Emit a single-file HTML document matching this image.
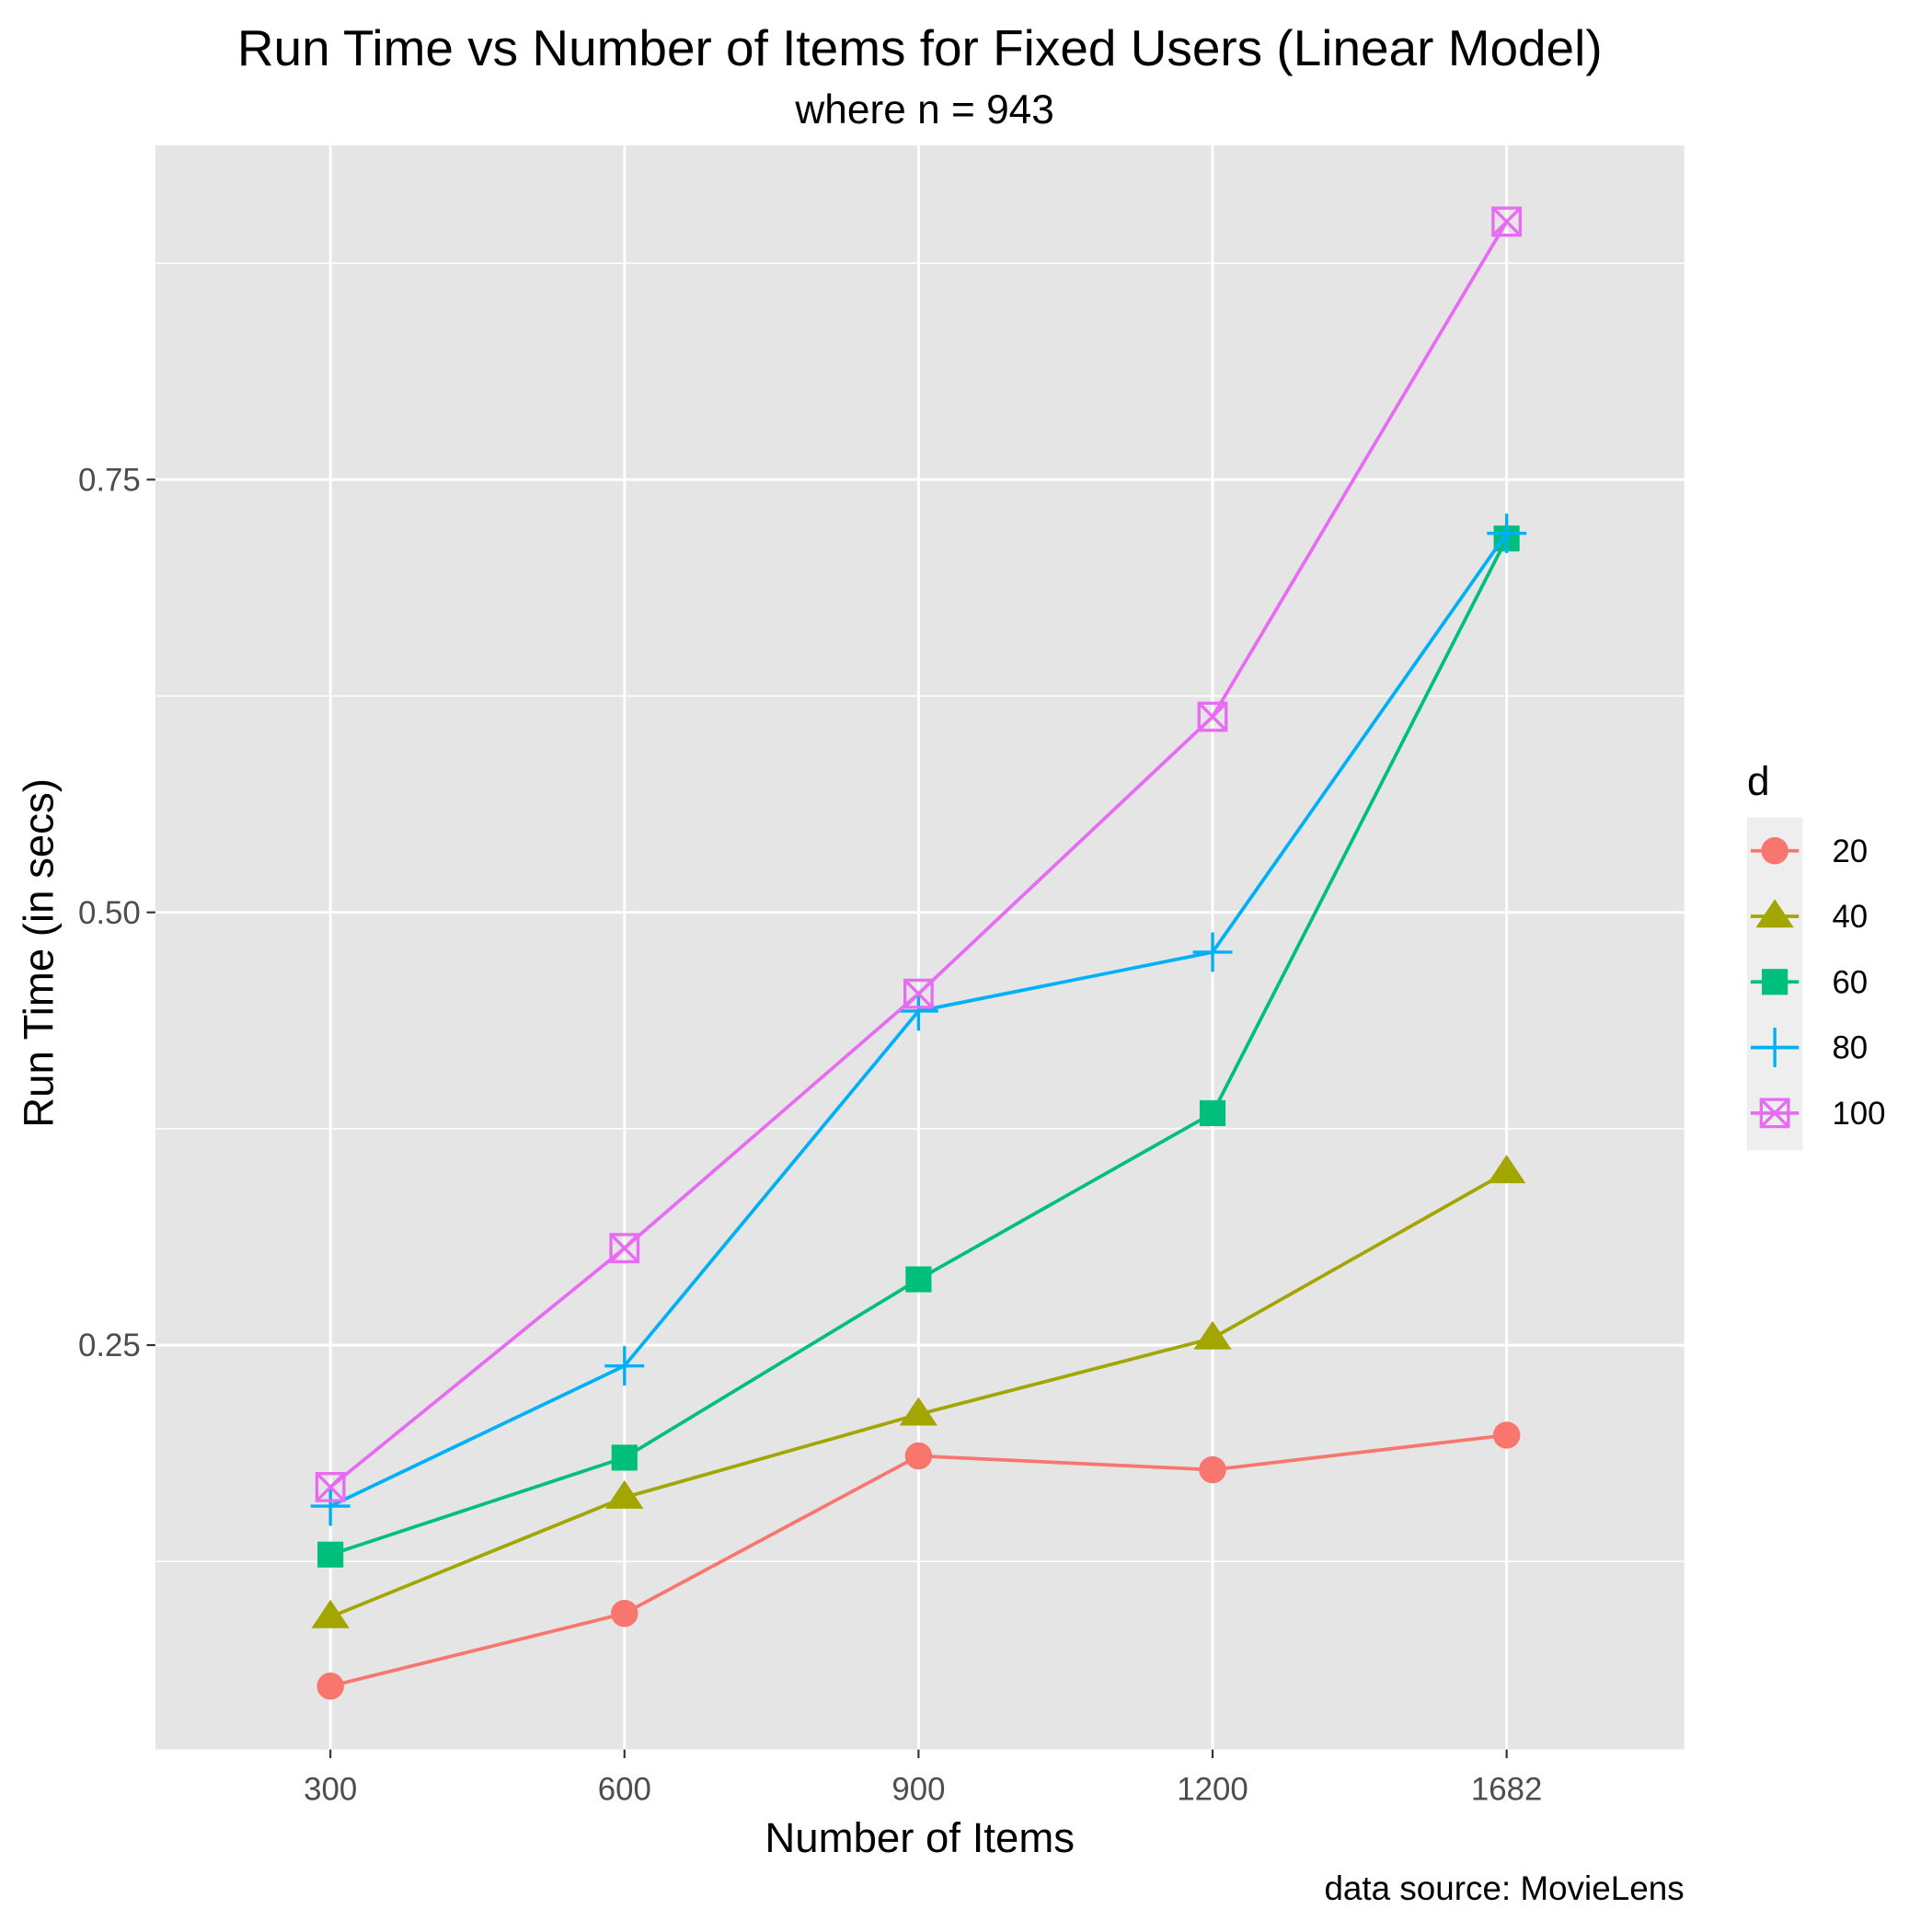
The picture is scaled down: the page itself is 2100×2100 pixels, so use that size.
<!DOCTYPE html>
<html><head><meta charset="utf-8"><style>html,body{margin:0;padding:0;background:#fff}svg{display:block}text{font-family:"Liberation Sans",Arial,sans-serif}</style></head>
<body>
<svg id="chart" width="2100" height="2100" viewBox="0 0 1567 1567" xmlns="http://www.w3.org/2000/svg">
<text x="746" y="53" font-size="41" text-anchor="middle" fill="#000">Run Time vs Number of Items for Fixed Users (Linear Model)</text>
<text x="750" y="100" font-size="33" text-anchor="middle" fill="#000">where n = 943</text>
<rect x="126" y="118" width="1240" height="1301" fill="#e5e5e5"/>
<g id="grid"></g>
<g id="axes"></g>
<g id="series"></g>
<text x="746" y="1502" font-size="34" text-anchor="middle" fill="#000">Number of Items</text>
<text transform="translate(43,773) rotate(-90)" font-size="34" text-anchor="middle" fill="#000">Run Time (in secs)</text>
<text x="1366" y="1541" font-size="27.5" text-anchor="end" fill="#000">data source: MovieLens</text>
<text x="1417" y="645" font-size="33" fill="#000">d</text>
<rect x="1417" y="663" width="45" height="270" fill="#eeeeee"/>
<g id="legend"></g>
</svg>
<script>
const categories = ["300","600","900","1200","1682"];
const seriesNames = ["20","40","60","80","100"];
const d20 = [0.053,0.095,0.186,0.178,0.198];
const d40 = [0.093,0.162,0.210,0.254,0.350];
const d60 = [0.129,0.185,0.288,0.384,0.716];
const d80 = [0.157,0.238,0.443,0.477,0.719];
const d100 = [0.168,0.306,0.453,0.613,0.899];
const yTicks = [0.25,0.50,0.75];
const yTickLabels = ["0.25","0.50","0.75"];
const yMinor = [0.125,0.375,0.625,0.875];
const colors = ["#F8766D","#A3A500","#00BF7D","#00B0F6","#E76BF3"];
const shapes = ["circle","triangle","square","plus","boxx"];
const allSeries = [d20,d40,d60,d80,d100];

const NS="http://www.w3.org/2000/svg";
const px0=126, px1=1366, py0=118, py1=1419;
function xPos(i){ return 268 + i*(1222-268)/(categories.length-1); }
function yPos(v){ return 740 - (v-0.5)*1404; }
function mk(tag,attrs,parent){const e=document.createElementNS(NS,tag);for(const k in attrs)e.setAttribute(k,attrs[k]);parent.appendChild(e);return e;}
const grid=document.getElementById('grid'), axes=document.getElementById('axes'), ser=document.getElementById('series'), leg=document.getElementById('legend');

yMinor.forEach(v=>{const l=mk('line',{x1:px0,x2:px1,y1:yPos(v),y2:yPos(v),stroke:'#fff','stroke-width':1.1},grid);

});
yTicks.forEach((v,i)=>{const l=mk('line',{x1:px0,x2:px1,y1:yPos(v),y2:yPos(v),stroke:'#fff','stroke-width':2.2},grid);


const t=mk('line',{x1:119,x2:126,y1:yPos(v),y2:yPos(v),stroke:'#333','stroke-width':1.6},axes);


const tx=mk('text',{x:114,y:yPos(v)+9,'font-size':26,'text-anchor':'end',fill:'#4d4d4d'},axes);tx.textContent=yTickLabels[i];

});
categories.forEach((c,i)=>{const x=xPos(i);
const l=mk('line',{x1:x,x2:x,y1:py0,y2:py1,stroke:'#fff','stroke-width':2.2},grid);


const t=mk('line',{x1:x,x2:x,y1:py1,y2:py1+7,stroke:'#333','stroke-width':1.6},axes);


const tx=mk('text',{x:x,y:1460,'font-size':26,'text-anchor':'middle',fill:'#4d4d4d'},axes);tx.textContent=c;

});

function marker(shape,x,y,col,parent,s){
  let g=mk('g',{},parent);
  if(shape==='circle'){mk('circle',{cx:x,cy:y,r:11*s,fill:col},g);}
  else if(shape==='triangle'){const r=14*s;mk('polygon',{points:`${x},${y-r} ${x-r*1.1},${y+r*0.65} ${x+r*1.1},${y+r*0.65}`,fill:col},g);}
  else if(shape==='square'){const r=10.5*s;mk('rect',{x:x-r,y:y-r,width:2*r,height:2*r,fill:col},g);}
  else if(shape==='plus'){const r=16*s;mk('path',{d:`M${x-r},${y}H${x+r}M${x},${y-r}V${y+r}`,stroke:col,'stroke-width':2.5,fill:'none'},g);}
  else {const r=11*s;mk('path',{d:`M${x-r},${y-r}h${2*r}v${2*r}h${-2*r}zM${x-r},${y-r}L${x+r},${y+r}M${x+r},${y-r}L${x-r},${y+r}`,stroke:col,'stroke-width':2.5,fill:'none'},g);}
  return g;
}
allSeries.forEach((vals,si)=>{const col=colors[si];
const pts=vals.map((v,i)=>xPos(i)+','+yPos(v)).join(' ');
const pl=mk('polyline',{points:pts,fill:'none',stroke:col,'stroke-width':2.8},ser);


vals.forEach((v,i)=>{const m=marker(shapes[si],xPos(i),yPos(v),col,ser,1);

});
const ly=690+si*53.2;
const g=mk('g',{},leg);


mk('line',{x1:1420,x2:1459,y1:ly,y2:ly,stroke:col,'stroke-width':2.8},g);
marker(shapes[si],1439.5,ly,col,g,1);
const t=mk('text',{x:1486,y:ly+9,'font-size':26,fill:'#000'},g);t.textContent=seriesNames[si];
});
</script>
</body></html>
